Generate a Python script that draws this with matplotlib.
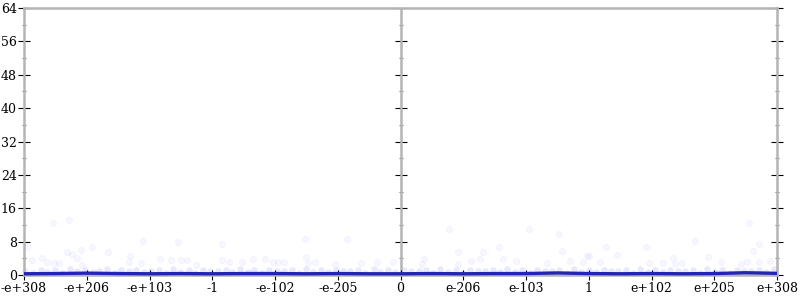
import matplotlib
matplotlib.use("Agg")
import matplotlib.pyplot as plt
from matplotlib.ticker import MultipleLocator

tick_labels = ["-e+308", "-e+206", "-e+103", "-1", "-e-102", "-e-205", "0",
               "e-206", "e-103", "1", "e+102", "e+205", "e+308"]
tick_pos = list(range(len(tick_labels)))

# scattered (outlier) error samples: x in tick-index units, y in bits of error
outlier_x = [0.46, 0.72, 0.05, 0.68, 0.77, 0.91, 1.08, 1.34, 1.90, 1.69, 2.45, 2.17,
             0.13, 0.37, 0.29, 0.48, 0.56, 0.84, 0.93, 1.67, 1.86, 2.34, 2.50, 2.59, 2.74,
             3.16, 4.48, 5.15, 3.16, 3.27, 3.47, 3.65, 3.84, 3.97, 4.05, 4.14, 4.49, 4.53,
             4.64, 4.96, 5.37, 5.62, 5.88,
             6.78, 8.05, 8.52, 6.92, 7.31, 7.57, 8.58, 8.98, 6.37, 6.34, 7.12, 7.27, 7.63,
             7.84, 8.33, 8.70, 8.91, 6.92,
             11.56, 10.70, 9.28, 9.91, 11.71, 11.62, 9.45, 9.00, 10.34, 10.90, 9.18, 9.96,
             10.18, 10.38, 10.48, 11.10, 11.43, 11.52, 11.71, 11.89]
outlier_y = [12.5, 13.2, 6.8, 5.6, 5.0, 6.0, 6.7, 5.6, 8.1, 4.6, 8.0, 3.8,
             3.6, 3.2, 4.0, 2.9, 2.9, 4.0, 2.4, 3.2, 2.9, 3.6, 3.6, 3.6, 2.4,
             7.4, 8.6, 8.6, 3.6, 3.2, 3.0, 3.8, 3.8, 3.2, 3.1, 3.1, 4.2, 2.9,
             3.1, 2.6, 2.9, 3.1, 3.1,
             11.0, 11.0, 9.8, 5.4, 5.4, 6.6, 5.8, 4.6, 3.8, 2.6, 3.4, 3.8, 3.8,
             3.4, 2.8, 3.4, 3.0, 2.6,
             12.5, 8.2, 6.8, 6.8, 7.4, 5.8, 4.8, 4.6, 4.0, 4.2, 3.0, 2.8,
             2.8, 2.6, 2.8, 3.0, 2.6, 3.0, 3.2, 3.4]

# dense low-error band
band_x = [0.02, 0.15, 0.27, 0.36, 0.50, 0.61, 0.73, 0.85, 0.97, 1.10, 1.19, 1.33,
          1.45, 1.54, 1.68, 1.79, 1.91, 2.02, 2.15, 2.26, 2.38, 2.49, 2.63, 2.72,
          2.86, 2.97, 3.09, 3.22, 3.31, 3.44, 3.57, 3.66, 3.80, 3.91, 4.03, 4.14,
          4.27, 4.38, 4.50, 4.61, 4.74, 4.85, 4.98, 5.09, 5.20, 5.33, 5.44, 5.57,
          5.68, 5.80, 5.92, 6.05, 6.16, 6.29, 6.40, 6.52, 6.63, 6.76, 6.88, 6.99,
          7.11, 7.24, 7.35, 7.47, 7.59, 7.70, 7.83, 7.94, 8.06, 8.17, 8.30, 8.42,
          8.53, 8.65, 8.77, 8.88, 9.01, 9.12, 9.24, 9.36, 9.47, 9.60, 9.71, 9.82,
          9.95, 10.06, 10.19, 10.30, 10.42, 10.53, 10.66, 10.77, 10.89, 11.01, 11.12,
          11.25, 11.36, 11.48, 11.59, 11.72, 11.83, 11.96]
band_y = [1.0, 0.6, 1.3, 0.8, 1.1, 0.5, 1.4, 0.9, 1.2, 0.7, 1.0, 1.5, 0.6, 1.1, 0.9,
          1.3, 0.7, 1.0, 1.2, 0.5, 1.4, 0.8, 1.1, 0.6, 1.3, 0.9, 1.0, 1.2, 0.7, 1.4,
          0.8, 1.1, 0.6, 1.3, 0.9, 1.0, 1.2, 0.5, 1.4, 0.8, 1.1, 0.7, 1.3, 0.9, 1.0,
          1.2, 0.6, 1.4, 0.8, 1.1, 0.7, 1.3, 0.9, 1.0, 1.2, 0.5, 1.4, 0.8, 1.1, 0.6,
          1.3, 0.9, 1.0, 1.2, 0.7, 1.4, 0.8, 1.1, 0.6, 1.3, 0.9, 1.0, 1.2, 0.5, 1.4,
          0.8, 1.1, 0.7, 1.3, 0.9, 1.0, 1.2, 0.6, 1.4, 0.8, 1.1, 0.7, 1.3, 0.9, 1.0,
          1.2, 0.5, 1.4, 0.8, 1.1, 0.6, 1.3, 0.9, 1.0, 1.2, 0.7, 1.4]

# average error line
avg_x = [0.0, 0.5, 1.0, 1.5, 2.0, 2.5, 3.0, 3.5, 4.0, 4.5, 5.0, 5.5, 6.0,
         6.5, 7.0, 7.5, 8.0, 8.5, 9.0, 9.5, 10.0, 10.5, 11.0, 11.5, 12.0]
avg_y = [0.3, 0.35, 0.45, 0.35, 0.3, 0.35, 0.3, 0.35, 0.35, 0.3, 0.35, 0.3, 0.3,
         0.35, 0.3, 0.35, 0.35, 0.5, 0.35, 0.3, 0.35, 0.3, 0.35, 0.55, 0.4]

plt.rcParams['font.family'] = ['DejaVu Serif']

fig = plt.figure(figsize=(8, 3), dpi=100)
ax = fig.add_axes([0.03, 0.0833, 0.94125, 0.89])

ax.scatter(band_x, band_y, s=22, color='#0000ff', alpha=0.09, linewidths=0, clip_on=False)
ax.scatter(outlier_x, outlier_y, s=20, color='#0000ff', alpha=0.035, linewidths=0.6,
           edgecolors='#0000ff')
ax.plot(avg_x, avg_y, color='#2424b4', lw=2.4, solid_capstyle='butt', clip_on=False, zorder=5)

ax.set_xlim(0, 12)
ax.set_ylim(0, 64)
grey = '#b4b4b4'
for side in ['left', 'right', 'top', 'bottom']:
    ax.spines[side].set_color(grey)
    ax.spines[side].set_linewidth(1.8)
ax.axvline(6, color=grey, lw=1.8, zorder=1)

ax.set_xticks(tick_pos)
ax.set_xticklabels(tick_labels)
ax.yaxis.set_major_locator(MultipleLocator(8))
ax.yaxis.set_minor_locator(MultipleLocator(4))
ax.tick_params(axis='x', direction='inout', length=6.5, width=0.8, color='black',
               labelsize=9, pad=2)
ax.tick_params(axis='y', which='major', direction='inout', length=8.5, width=0.8,
               color='black', labelsize=9, pad=1, right=True)
ax.tick_params(axis='y', which='minor', direction='inout', length=3.5, width=0.8,
               color='#777777', right=True)

sec = ax.secondary_yaxis(0.5)
sec.yaxis.set_major_locator(MultipleLocator(8))
sec.yaxis.set_minor_locator(MultipleLocator(4))
sec.tick_params(which='major', direction='inout', length=8.5, width=0.8, color='black',
                labelleft=False, labelright=False)
sec.tick_params(which='minor', direction='inout', length=3.5, width=0.8, color='#777777')
for s in sec.spines.values():
    s.set_visible(False)

fig.savefig('out.png', dpi=100)
